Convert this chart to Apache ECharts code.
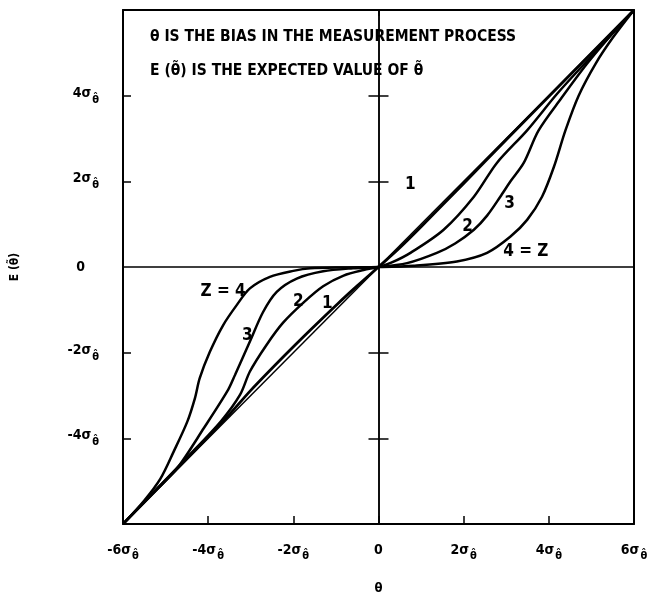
<!DOCTYPE html>
<html><head><meta charset="utf-8">
<script src="https://cdn.jsdelivr.net/npm/echarts@6/dist/echarts.min.js"></script>
<style>html,body{margin:0;background:#fff}#c{width:654px;height:600px}</style>
</head><body><div id="c"></div>
<script>
// ---- data ----
const xTicks = [-6, -4, -2, 0, 2, 4, 6];
const xTickLabels = ['-6σ', '-4σ', '-2σ', '0', '2σ', '4σ', '6σ'];
const yTicks = [-4, -2, 0, 2, 4];
const yTickLabels = ['-4σ', '-2σ', '0', '2σ', '4σ'];
const tickSub = 'θ̂';
const identityLine = [[-6, -6], [6, 6]];
const curveZ1 = [[-6, -6], [-3.6, -3.55], [-3, -2.88], [-2.2, -2.06], [-1.6, -1.47], [-0.95, -0.85], [-0.5, -0.44], [0, 0],
  [0.5, 0.45], [1, 0.94], [2, 1.95], [3, 2.97], [6, 6]];
const curveZ2 = [[-6, -6], [-4.5, -4.45], [-3.7, -3.6], [-3.25, -2.98], [-3.02, -2.44], [-2.63, -1.82], [-2.24, -1.3],
  [-1.75, -0.82], [-1.3, -0.45], [-0.82, -0.2], [-0.35, -0.07], [0, 0], [0.3, 0.1], [0.75, 0.33], [1.53, 0.87], [2.24, 1.64],
  [2.78, 2.43], [3.49, 3.19], [4.2, 4.05], [5, 4.92], [6, 6]];
const curveZ3 = [[-6, -6], [-5.3, -5.28], [-4.73, -4.7], [-4.1, -3.76], [-3.55, -2.9], [-3.37, -2.52], [-3.02, -1.74],
  [-2.71, -1.05], [-2.39, -0.58], [-1.92, -0.27], [-1.3, -0.1], [-0.6, -0.03], [0, 0], [0.67, 0.09], [1.37, 0.33],
  [1.8, 0.55], [2.24, 0.87], [2.55, 1.2], [2.86, 1.64], [3.1, 2.0], [3.41, 2.43], [3.76, 3.19], [4.3, 3.95],
  [4.9, 4.75], [5.45, 5.4], [6, 6]];
const curveZ4 = [[-6, -6], [-5.5, -5.45], [-5.12, -4.94], [-4.81, -4.31], [-4.49, -3.61], [-4.31, -3.06], [-4.2, -2.6],
  [-3.96, -1.98], [-3.65, -1.36], [-3.33, -0.89], [-3.02, -0.5], [-2.55, -0.23], [-2.0, -0.09], [-1.6, -0.03],
  [-0.8, -0.01], [0, 0], [0.82, 0.03], [1.84, 0.13], [2.55, 0.33], [3.1, 0.71], [3.49, 1.1], [3.84, 1.64],
  [4.12, 2.34], [4.39, 3.19], [4.7, 4.0], [5.1, 4.75], [5.5, 5.35], [6, 6]];
const curveLabelText = ['1', '2', '3', '4 = Z', 'Z = 4', '3', '2', '1'];
const curveLabelX = [0.75, 2.09, 3.08, 3.46, -3.65, -3.08, -1.88, -1.2];
const curveLabelY = [1.93, 0.95, 1.47, 0.37, -0.58, -1.6, -0.81, -0.86];
const noteLines = ['θ IS THE BIAS IN THE MEASUREMENT PROCESS', 'E (θ̃) IS THE EXPECTED VALUE OF θ̃'];
const xName = 'θ';
const yName = 'E (θ̃)';

// ---- chart ----
const FONT = '"Liberation Sans Narrow", "DejaVu Sans Condensed", "Liberation Sans", sans-serif';
const richTick = {
  m: { fontSize: 14, fontWeight: 'bold', fontFamily: FONT, color: '#000', verticalAlign: 'top' },
  s: { fontSize: 11, fontWeight: 'bold', fontFamily: FONT, color: '#000', verticalAlign: 'top', padding: [8, 0, 0, 1] },
  sp: { width: 14 }
};
function tickFmt(ticks, labels, padZero) {
  return function (v) {
    const i = ticks.indexOf(Math.round(v));
    if (i < 0) return '';
    const t = labels[i];
    if (t === '0') return padZero ? '{m|0}{sp| }' : '{m|0}';
    return '{m|' + t + '}{s|' + tickSub + '}';
  };
}
const black = { color: '#000', width: 2 };
const chart = echarts.init(document.getElementById('c'));
const lineSeries = (data, w) => ({
  type: 'line', data, xAxisIndex: 0, yAxisIndex: 0, showSymbol: false, smooth: 0.3,
  lineStyle: { color: '#000', width: w }, silent: true, z: 5
});
chart.setOption({
  animation: false,
  backgroundColor: '#fff',
  grid: { left: 123, right: 20, top: 10, bottom: 74 },
  xAxis: [
    { type: 'value', min: -6, max: 6, interval: 2, position: 'bottom',
      axisLine: { onZero: false, lineStyle: black },
      axisTick: { inside: true, length: 8, customValues: [-4, -2, 0, 2, 4], lineStyle: { color: '#000', width: 1.5 } },
      axisLabel: { margin: 19, formatter: tickFmt(xTicks, xTickLabels, false), rich: richTick },
      splitLine: { show: false },
      name: xName, nameLocation: 'middle', nameGap: 58,
      nameTextStyle: { fontSize: 13, fontWeight: 'bold', fontFamily: FONT, color: '#000' } },
    { type: 'value', min: -6, max: 6, interval: 2, position: 'top',
      axisLine: { onZero: false, lineStyle: black },
      axisTick: { inside: true, length: 6, customValues: [0], lineStyle: { color: '#000', width: 1.5 } },
      axisLabel: { show: false }, splitLine: { show: false } },
    { type: 'value', min: -6, max: 6, interval: 2, position: 'bottom',
      axisLine: { onZero: true, onZeroAxisIndex: 0, lineStyle: { color: '#000', width: 1.5 } },
      axisTick: { show: false }, axisLabel: { show: false }, splitLine: { show: false } }
  ],
  yAxis: [
    { type: 'value', min: -6, max: 6, interval: 2, position: 'left',
      axisLine: { onZero: false, lineStyle: black },
      axisTick: { inside: true, length: 8, customValues: [-4, -2, 2, 4], lineStyle: { color: '#000', width: 1.5 } },
      axisLabel: { margin: 24, formatter: tickFmt(yTicks, yTickLabels, true), rich: richTick },
      splitLine: { show: false },
      name: yName, nameLocation: 'middle', nameGap: 102,
      nameTextStyle: { fontSize: 12, fontWeight: 'bold', fontFamily: FONT, color: '#000' } },
    { type: 'value', min: -6, max: 6, interval: 2, position: 'right',
      axisLine: { onZero: false, lineStyle: black },
      axisTick: { show: false }, axisLabel: { show: false }, splitLine: { show: false } },
    { type: 'value', min: -6, max: 6, interval: 2, position: 'left',
      axisLine: { onZero: true, onZeroAxisIndex: 0, lineStyle: { color: '#000', width: 1.5 } },
      axisTick: { inside: true, length: 10, customValues: [-4, -2, 2, 4], lineStyle: { color: '#000', width: 1.5 } },
      axisLabel: { show: false }, splitLine: { show: false } },
    { type: 'value', min: -6, max: 6, interval: 2, position: 'left',
      axisLine: { onZero: true, onZeroAxisIndex: 0, lineStyle: { color: '#000', width: 1.5 } },
      axisTick: { inside: false, length: 10, customValues: [-4, -2, 2, 4], lineStyle: { color: '#000', width: 1.5 } },
      axisLabel: { show: false }, splitLine: { show: false } }
  ],
  graphic: noteLines.map((t, i) => ({
    type: 'text', left: 150, top: 29 + i * 34,
    style: { text: t, fontSize: 15.5, fontWeight: 'bold', fontFamily: FONT, fill: '#000' }
  })),
  series: [
    lineSeries(identityLine, 1.5),
    lineSeries(curveZ1, 2.8),
    lineSeries(curveZ2, 2.5),
    lineSeries(curveZ3, 2.5),
    lineSeries(curveZ4, 2.5),
    { type: 'scatter', xAxisIndex: 0, yAxisIndex: 0, symbol: 'circle', symbolSize: 0.1, silent: true, z: 6,
      itemStyle: { color: '#000', opacity: 1 }, emphasis: { disabled: true },
      data: curveLabelText.map((t, i) => ({ name: t, value: [curveLabelX[i], curveLabelY[i]] })),
      label: { show: true, position: 'inside', formatter: p => p.name, textBorderWidth: 0, opacity: 1,
        fontSize: 17, fontWeight: 'bold', fontFamily: FONT, color: '#000' } }
  ]
});
</script></body></html>
